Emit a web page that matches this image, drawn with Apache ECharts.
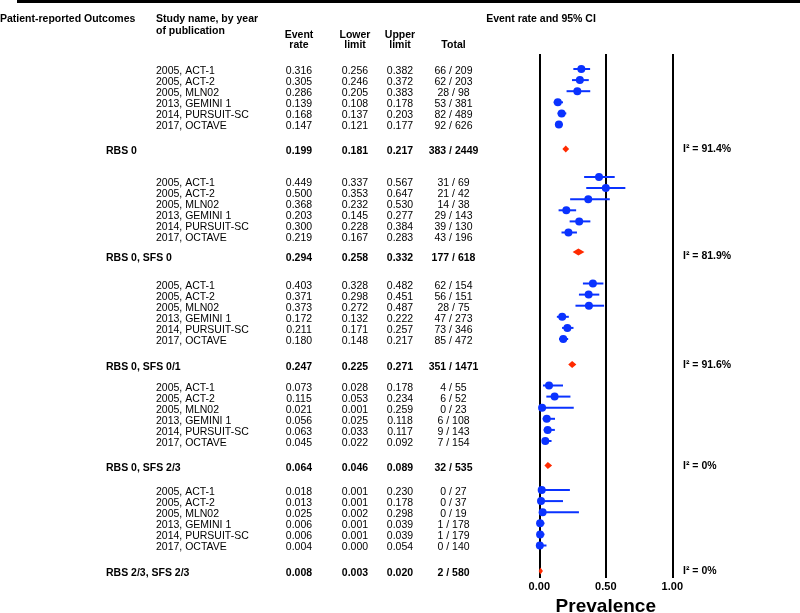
<!DOCTYPE html>
<html>
<head>
<meta charset="utf-8">
<script src="https://cdn.jsdelivr.net/npm/echarts@6/dist/echarts.min.js"></script>
<style>
  html, body { margin: 0; padding: 0; background: #fff; }
  #chart { width: 800px; height: 613px; }
</style>
</head>
<body>
<div id="chart"></div>
<script>
// studies (same six in every subgroup)
const studyNames = ["2005, ACT-1", "2005, ACT-2", "2005, MLN02", "2013, GEMINI 1", "2014, PURSUIT-SC", "2017, OCTAVE"]
const groupLabels = ["RBS 0", "RBS 0, SFS 0", "RBS 0, SFS 0/1", "RBS 0, SFS 2/3", "RBS 2/3, SFS 2/3"]

const g1Rate = [0.316, 0.305, 0.286, 0.139, 0.168, 0.147]
const g1Lower = [0.256, 0.246, 0.205, 0.108, 0.137, 0.121]
const g1Upper = [0.382, 0.372, 0.383, 0.178, 0.203, 0.177]
const g1Total = ["66 / 209", "62 / 203", "28 / 98", "53 / 381", "82 / 489", "92 / 626"]

const g2Rate = [0.449, 0.500, 0.368, 0.203, 0.300, 0.219]
const g2Lower = [0.337, 0.353, 0.232, 0.145, 0.228, 0.167]
const g2Upper = [0.567, 0.647, 0.530, 0.277, 0.384, 0.283]
const g2Total = ["31 / 69", "21 / 42", "14 / 38", "29 / 143", "39 / 130", "43 / 196"]

const g3Rate = [0.403, 0.371, 0.373, 0.172, 0.211, 0.180]
const g3Lower = [0.328, 0.298, 0.272, 0.132, 0.171, 0.148]
const g3Upper = [0.482, 0.451, 0.487, 0.222, 0.257, 0.217]
const g3Total = ["62 / 154", "56 / 151", "28 / 75", "47 / 273", "73 / 346", "85 / 472"]

const g4Rate = [0.073, 0.115, 0.021, 0.056, 0.063, 0.045]
const g4Lower = [0.028, 0.053, 0.001, 0.025, 0.033, 0.022]
const g4Upper = [0.178, 0.234, 0.259, 0.118, 0.117, 0.092]
const g4Total = ["4 / 55", "6 / 52", "0 / 23", "6 / 108", "9 / 143", "7 / 154"]

const g5Rate = [0.018, 0.013, 0.025, 0.006, 0.006, 0.004]
const g5Lower = [0.001, 0.001, 0.002, 0.001, 0.001, 0.000]
const g5Upper = [0.230, 0.178, 0.298, 0.039, 0.039, 0.054]
const g5Total = ["0 / 27", "0 / 37", "0 / 19", "1 / 178", "1 / 179", "0 / 140"]

const summaryRate = [0.199, 0.294, 0.247, 0.064, 0.008]
const summaryLower = [0.181, 0.258, 0.225, 0.046, 0.003]
const summaryUpper = [0.217, 0.332, 0.271, 0.089, 0.020]
const summaryTotal = ["383 / 2449", "177 / 618", "351 / 1471", "32 / 535", "2 / 580"]
const heterogeneity = ["91.4%", "81.9%", "91.6%", "0%", "0%"]

const axisTicks = [0, 0.5, 1]

const groups = [
    { rate: g1Rate, lower: g1Lower, upper: g1Upper, total: g1Total },
    { rate: g2Rate, lower: g2Lower, upper: g2Upper, total: g2Total },
    { rate: g3Rate, lower: g3Lower, upper: g3Upper, total: g3Total },
    { rate: g4Rate, lower: g4Lower, upper: g4Upper, total: g4Total },
    { rate: g5Rate, lower: g5Lower, upper: g5Upper, total: g5Total },
]

// layout (pixels)
const groupTop = [71, 183, 286, 388, 492]
const summaryY = [151, 258, 367, 468, 573]
const rowStep = 11.1
const plotShift = [-2, -6, -2.5, -2.5, -2]
const colStudy = 156, colGroup = 106, colRate = 299, colLower = 355, colUpper = 400, colTotal = 453.5
const FONT = "Liberation Sans, Arial, sans-serif"

let ciData = [], dotData = [], diamondData = [], graphics = []

function txt(x, y, text, opts) {
    graphics.push({
        type: "text",
        x: x,
        y: y,
        silent: true,
        style: Object.assign({
            text: text,
            font: "10.5px " + FONT,
            fill: "#000",
            textAlign: "left",
            textVerticalAlign: "middle",
        }, opts || {}),
    })
}
const bold = (size) => "bold " + size + "px " + FONT

groups.forEach((g, gi) => {
    g.rate.forEach((r, i) => {
        const y = groupTop[gi] + i * rowStep
        txt(colStudy, y, studyNames[i])
        txt(colRate, y, r.toFixed(3), { textAlign: "center" })
        txt(colLower, y, g.lower[i].toFixed(3), { textAlign: "center" })
        txt(colUpper, y, g.upper[i].toFixed(3), { textAlign: "center" })
        txt(colTotal, y, g.total[i], { textAlign: "center" })
        const py = y + plotShift[gi]
        ciData.push([g.lower[i], g.upper[i], py])
        dotData.push([r, py])
    })
    const sy = summaryY[gi]
    txt(colGroup, sy, groupLabels[gi], { font: bold(10.5) })
    txt(colRate, sy, summaryRate[gi].toFixed(3), { textAlign: "center", font: bold(10.5) })
    txt(colLower, sy, summaryLower[gi].toFixed(3), { textAlign: "center", font: bold(10.5) })
    txt(colUpper, sy, summaryUpper[gi].toFixed(3), { textAlign: "center", font: bold(10.5) })
    txt(colTotal, sy, summaryTotal[gi], { textAlign: "center", font: bold(10.5) })
    txt(683, sy - 2, "I\u00b2 = " + heterogeneity[gi], { font: bold(10.5) })
    diamondData.push([summaryLower[gi], summaryRate[gi], summaryUpper[gi], sy + plotShift[gi]])
})

// headers
txt(0, 19, "Patient-reported Outcomes", { font: bold(10.5) })
txt(156, 19, "Study name, by year", { font: bold(10.5) })
txt(156, 31, "of publication", { font: bold(10.5) })
txt(colRate, 35, "Event", { textAlign: "center", font: bold(10.5) })
txt(colRate, 45, "rate", { textAlign: "center", font: bold(10.5) })
txt(colLower, 35, "Lower", { textAlign: "center", font: bold(10.5) })
txt(colLower, 45, "limit", { textAlign: "center", font: bold(10.5) })
txt(colUpper, 35, "Upper", { textAlign: "center", font: bold(10.5) })
txt(colUpper, 45, "limit", { textAlign: "center", font: bold(10.5) })
txt(colTotal, 45, "Total", { textAlign: "center", font: bold(10.5) })
txt(541, 19, "Event rate and 95% CI", { textAlign: "center", font: bold(10.5) })

graphics.push({
    type: "rect",
    left: 17,
    top: 0,
    shape: { x: 0, y: 0, width: 783, height: 3 },
    style: { fill: "#000" },
    silent: true,
})

const chart = echarts.init(document.getElementById("chart"), null, { renderer: "canvas" })

const option = {
    backgroundColor: "#fff",
    animation: false,
    grid: { left: 539.3, right: 127.7, top: 54, bottom: 35, containLabel: false, outerBoundsMode: "none" },
    xAxis: {
        type: "value",
        min: axisTicks[0],
        max: axisTicks[axisTicks.length - 1],
        interval: axisTicks[1] - axisTicks[0],
        axisLine: { show: false },
        axisTick: { show: false },
        splitLine: { show: true, lineStyle: { color: "#000", width: 2 } },
        axisLabel: {
            margin: 3,
            color: "#000",
            fontFamily: FONT,
            fontWeight: "bold",
            fontSize: 11,
            formatter: (v) => v.toFixed(2),
        },
        name: "Prevalence",
        nameLocation: "middle",
        nameGap: 17,
        nameTextStyle: { color: "#000", fontFamily: FONT, fontWeight: "bold", fontSize: 19 },
    },
    yAxis: {
        type: "value",
        inverse: true,
        min: 54,
        max: 578,
        show: false,
    },
    series: [
        {
            type: "custom",
            encode: { x: [0, 1], y: 2 },
            data: ciData,
            renderItem: (params, api) => {
                const a = api.coord([api.value(0), api.value(2)])
                const b = api.coord([api.value(1), api.value(2)])
                return {
                    type: "line",
                    shape: { x1: a[0], y1: a[1], x2: b[0], y2: b[1] },
                    style: { stroke: "#0a32ff", lineWidth: 2 },
                }
            },
        },
        {
            type: "scatter",
            data: dotData,
            symbol: "circle",
            symbolSize: 8,
            itemStyle: { color: "#0a32ff", opacity: 1 },
        },
        {
            type: "custom",
            encode: { x: [0, 1, 2], y: 3 },
            data: diamondData,
            renderItem: (params, api) => {
                const y = api.value(3)
                const l = api.coord([api.value(0), y])
                const m = api.coord([api.value(1), y])
                const u = api.coord([api.value(2), y])
                return {
                    type: "polygon",
                    shape: { points: [[l[0] - 1, l[1]], [m[0], m[1] - 3.5], [u[0] + 1, u[1]], [m[0], m[1] + 3.5]] },
                    style: { fill: "#ff2a00" },
                }
            },
        },
    ],
    graphic: graphics,
}

chart.setOption(option)
</script>
</body>
</html>
